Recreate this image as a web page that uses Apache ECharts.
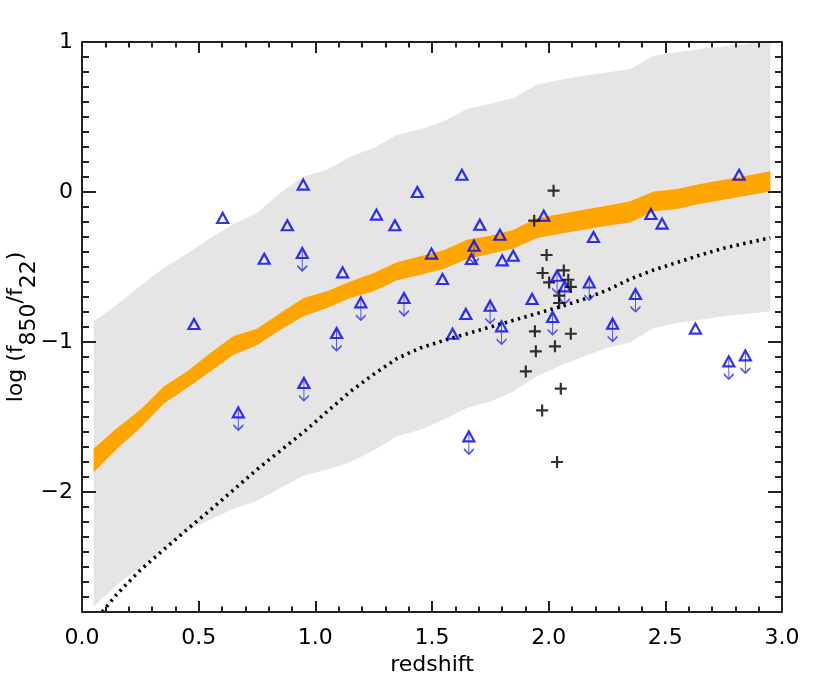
<!DOCTYPE html>
<html>
<head>
<meta charset="utf-8">
<script src="https://cdn.jsdelivr.net/npm/echarts@6/dist/echarts.min.js"></script>
<style>html,body{margin:0;padding:0;background:#fff}#c{width:822px;height:699px}</style>
</head>
<body>
<div id="c"></div>
<script>
// model grid in redshift
const zGrid = [0.05,0.15,0.25,0.35,0.45,0.55,0.65,0.75,0.85,0.95,1.05,1.15,1.25,1.35,1.45,1.55,1.65,1.75,1.85,1.95,2.05,2.15,2.25,2.35,2.45,2.55,2.65,2.75,2.85,2.95];
// grey envelope
const greyUpper = [-0.863,-0.751,-0.625,-0.507,-0.411,-0.307,-0.213,-0.14,-0.007,0.104,0.149,0.237,0.293,0.382,0.418,0.471,0.553,0.589,0.627,0.715,0.749,0.775,0.797,0.82,0.909,0.931,0.953,0.971,0.989,1.01];
const greyLower = [-2.763,-2.618,-2.5,-2.38,-2.262,-2.185,-2.11,-2.06,-1.973,-1.89,-1.851,-1.802,-1.722,-1.629,-1.585,-1.518,-1.44,-1.396,-1.329,-1.229,-1.158,-1.096,-1.04,-1.002,-0.907,-0.873,-0.851,-0.829,-0.811,-0.796];
// orange band
const orangeUpper = [-1.712,-1.574,-1.451,-1.296,-1.196,-1.073,-0.96,-0.912,-0.807,-0.707,-0.662,-0.596,-0.54,-0.469,-0.429,-0.389,-0.318,-0.291,-0.251,-0.173,-0.147,-0.118,-0.091,-0.062,0.004,0.02,0.053,0.082,0.109,0.138];
const orangeLower = [-1.868,-1.711,-1.574,-1.411,-1.307,-1.196,-1.085,-1.022,-0.918,-0.829,-0.773,-0.707,-0.662,-0.589,-0.551,-0.513,-0.447,-0.411,-0.376,-0.307,-0.278,-0.251,-0.225,-0.203,-0.129,-0.113,-0.078,-0.051,-0.024,0.004];
// dotted model track
const dottedTrack = [-2.87,-2.68,-2.52,-2.385,-2.25,-2.12,-1.985,-1.85,-1.725,-1.6,-1.465,-1.33,-1.215,-1.11,-1.04,-0.99,-0.945,-0.9,-0.855,-0.81,-0.765,-0.715,-0.655,-0.58,-0.52,-0.47,-0.42,-0.375,-0.34,-0.305];
// blue triangles (detections)
const detX = [0.480,0.603,0.781,0.880,0.948,1.117,1.262,1.341,1.437,1.498,1.545,1.588,1.628,1.645,1.669,1.705,1.791,1.801,1.848,1.929,1.979,2.192,2.438,2.486,2.629,2.816];
const detY = [-0.88,-0.173,-0.445,-0.222,0.049,-0.536,-0.151,-0.222,0.0,-0.411,-0.58,-0.945,0.115,-0.813,-0.447,-0.218,-0.285,-0.456,-0.425,-0.713,-0.158,-0.30,-0.147,-0.211,-0.911,0.115];
// blue triangles with arrows (upper limits)
const limX = [0.670,0.944,0.951,1.091,1.195,1.380,1.658,1.680,1.749,1.798,2.017,2.036,2.069,2.174,2.274,2.372,2.772,2.843];
const limY = [-1.469,-0.407,-1.273,-0.94,-0.736,-0.707,-1.629,-0.358,-0.758,-0.896,-0.833,-0.558,-0.629,-0.603,-0.878,-0.68,-1.129,-1.089];
// black crosses
const plusX = [2.021,1.938,1.991,1.974,2.002,2.065,2.084,2.095,2.045,2.045,1.941,2.095,1.945,2.027,1.902,2.052,1.972,2.036];
const plusY = [0.009,-0.191,-0.42,-0.54,-0.603,-0.523,-0.585,-0.633,-0.691,-0.74,-0.929,-0.945,-1.062,-1.029,-1.196,-1.311,-1.456,-1.80];
// ticks
const yMajorTicks = [-2,-1,0,1];
const yMin = -2.8, yMax = 1;

const zip = (xs, ys) => xs.map((x, i) => [x, ys[i]]);
const axisCol = '#222';
const font = 'DejaVu Sans';

function bandSeries(upper, lower, color) {
  return {
    type: 'custom', coordinateSystem: 'cartesian2d', xAxisIndex: 0, yAxisIndex: 0,
    data: [[zGrid[0], upper[0]]], clip: true, silent: true, z: 1,
    renderItem: function (params, api) {
      const pts = [];
      for (let i = 0; i < zGrid.length; i++) pts.push(api.coord([zGrid[i], upper[i]]));
      for (let i = zGrid.length - 1; i >= 0; i--) pts.push(api.coord([zGrid[i], lower[i]]));
      return { type: 'polygon', shape: { points: pts }, style: { fill: color, stroke: null } };
    }
  };
}

const yFmt = v => (v < 0 ? '\u2212' + Math.abs(v) : String(v));
const tickStyle = { color: axisCol, width: 2 };

// x tick axes: shifted inward by their tick length, ticks drawn outward so they end on the frame
function xTickAxis(pos, interval, len) {
  return {
    type: 'value', min: 0, max: 3, interval: interval, position: pos, offset: -len, z: 10,
    axisLine: { show: false, onZero: false },
    axisTick: { show: true, inside: false, length: len, lineStyle: tickStyle },
    axisLabel: { show: false }, splitLine: { show: false }
  };
}
function yTickAxis(pos, len) {
  return {
    type: 'value', min: yMin, max: yMax, interval: 0.1, position: pos, z: 10,
    axisLine: { show: false, onZero: false },
    axisTick: { show: true, inside: true, length: len, lineStyle: tickStyle },
    axisLabel: { show: false }, splitLine: { show: false }
  };
}

const chart = echarts.init(document.getElementById('c'), null, { renderer: 'canvas' });
chart.setOption({
  animation: false,
  backgroundColor: '#fff',
  grid: { left: 82, top: 42, width: 700, height: 570, containLabel: false, outerBoundsMode: 'none' },
  xAxis: [
    {
      type: 'value', min: 0, max: 3, interval: 0.5, position: 'bottom', z: 10,
      axisLine: { show: true, onZero: false, lineStyle: tickStyle },
      axisTick: { show: false },
      axisLabel: { fontSize: 22, fontFamily: font, color: '#000', margin: 15, formatter: v => v.toFixed(1) },
      splitLine: { show: false },
      name: 'redshift', nameLocation: 'middle', nameGap: 42,
      nameTextStyle: { fontSize: 22, fontFamily: font, color: '#000' }
    },
    {
      type: 'value', min: 0, max: 3, interval: 0.5, position: 'top', z: 10,
      axisLine: { show: true, onZero: false, lineStyle: tickStyle },
      axisTick: { show: false },
      axisLabel: { show: false }, splitLine: { show: false }
    },
    xTickAxis('bottom', 0.5, 11),
    xTickAxis('bottom', 0.1, 5.5),
    xTickAxis('top', 0.5, 11),
    xTickAxis('top', 0.1, 5.5)
  ],
  yAxis: [
    {
      type: 'value', min: yMin, max: yMax, position: 'left', z: 10,
      axisLine: { show: true, onZero: false, lineStyle: tickStyle },
      axisTick: { show: true, inside: true, length: 14, customValues: yMajorTicks, lineStyle: tickStyle },
      axisLabel: { customValues: yMajorTicks, fontSize: 22, fontFamily: font, color: '#000', margin: 9, formatter: yFmt },
      splitLine: { show: false },
      name: '{n|log (f}{s|850}{n|/f}{s|22}{n|)}',
      nameLocation: 'middle', nameGap: 42, nameMoveOverlap: false,
      nameTextStyle: {
        fontSize: 22, fontFamily: font, color: '#000',
        rich: {
          n: { fontSize: 22, fontFamily: font, color: '#000', verticalAlign: 'top', lineHeight: 22 },
          s: { fontSize: 22, fontFamily: font, color: '#000', verticalAlign: 'bottom', lineHeight: 35 }
        }
      }
    },
    yTickAxis('left', 7),
    {
      type: 'value', min: yMin, max: yMax, position: 'right', z: 10,
      axisLine: { show: true, onZero: false, lineStyle: tickStyle },
      axisTick: { show: true, inside: true, length: 14, customValues: yMajorTicks, lineStyle: tickStyle },
      axisLabel: { show: false }, splitLine: { show: false }
    },
    yTickAxis('right', 7)
  ],
  series: [
    bandSeries(greyUpper, greyLower, '#e5e5e5'),
    bandSeries(orangeUpper, orangeLower, '#ffa500'),
    {
      type: 'line', data: zip(zGrid, dottedTrack), showSymbol: false, symbol: 'none', silent: true,
      lineStyle: { color: '#000', width: 3.6, type: [2.4, 4.4], cap: 'butt' }, z: 3
    },
    {
      type: 'scatter', data: zip(detX, detY), symbol: 'triangle', symbolSize: [11, 10],
      itemStyle: { color: 'rgba(0,0,0,0)', borderColor: '#0000f0', borderWidth: 2.2 }, z: 4
    },
    {
      type: 'scatter', data: zip(limX, limY), symbol: 'triangle', symbolSize: [11, 10],
      itemStyle: { color: 'rgba(0,0,0,0)', borderColor: '#0000f0', borderWidth: 2.2 }, z: 4
    },
    {
      type: 'scatter', data: zip(limX, limY), symbol: 'path://M5,0L5,22M0,17L5,22L10,17', symbolSize: [10, 22],
      symbolOffset: [0, 6.7],
      itemStyle: { color: 'rgba(0,0,0,0)', borderColor: '#2a2af0', borderWidth: 1.4 }, z: 4
    },
    {
      type: 'scatter', data: zip(plusX, plusY), symbol: 'path://M5,0L5,10M0,5L10,5', symbolSize: [12, 12],
      itemStyle: { color: 'rgba(0,0,0,0)', borderColor: '#000', borderWidth: 2.2 }, z: 5
    }
  ]
});
</script>
</body>
</html>
